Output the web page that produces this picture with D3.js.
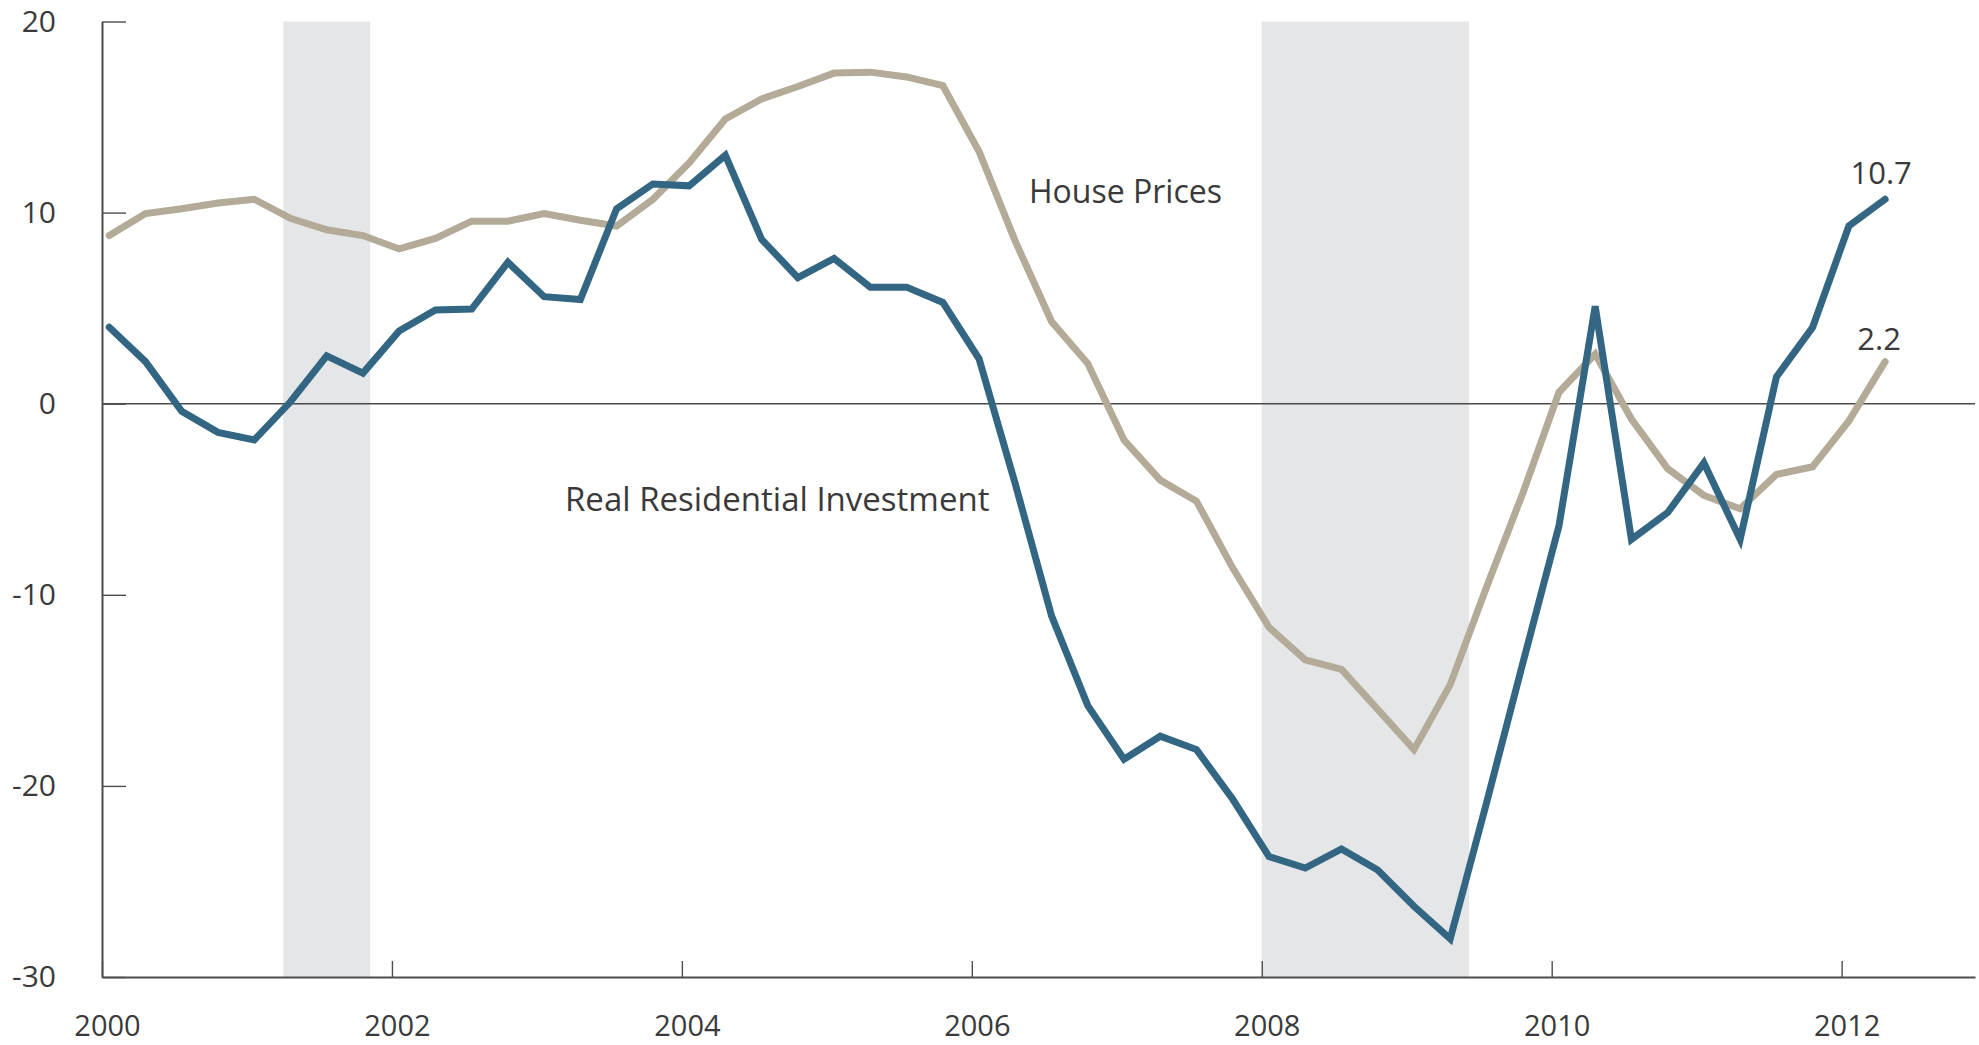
<!DOCTYPE html>
<html>
<head>
<meta charset="utf-8">
<script src="https://cdn.jsdelivr.net/npm/d3@7"></script>
<style>
  body { margin: 0; background: #fff; }
  svg text { font-family: "Open Sans", "Noto Sans", sans-serif; fill: #3a3a3a; }
</style>
</head>
<body>
<div id="chart"></div>
<script>
var width = 1979, height = 1045;

var years = [2000, 2001, 2002, 2003, 2004, 2005, 2006, 2007, 2008, 2009, 2010, 2011, 2012];
var xTicks = [2000, 2002, 2004, 2006, 2008, 2010, 2012];
var yTicks = [20, 10, 0, -10, -20, -30];

// quarterly, 2000Q1 .. 2012Q2, percent change from a year earlier
var investment = [4.0, 2.2, -0.4, -1.5,
                  -1.9, 0.1, 2.5, 1.6,
                  3.8, 4.9, 4.95, 7.4,
                  5.6, 5.45, 10.2, 11.5,
                  11.4, 13.0, 8.6, 6.6,
                  7.6, 6.1, 6.1, 5.3,
                  2.35, -4.2, -11.1, -15.8,
                  -18.6, -17.4, -18.1, -20.7,
                  -23.7, -24.3, -23.3, -24.4,
                  -26.3, -28.0, -20.9, -13.6,
                  -6.4, 5.1, -7.1, -5.7,
                  -3.1, -7.1, 1.4, 4.0,
                  9.3, 10.7];

var housePrices = [8.8, 9.95, 10.2, 10.5,
                   10.7, 9.7, 9.1, 8.8,
                   8.1, 8.65, 9.55, 9.55,
                   9.95, 9.6, 9.3, 10.7,
                   12.6, 14.9, 15.95, 16.6,
                   17.3, 17.35, 17.1, 16.65,
                   13.2, 8.5, 4.3, 2.1,
                   -1.9, -4.0, -5.1, -8.6,
                   -11.7, -13.4, -13.9, -16.0,
                   -18.1, -14.7, -9.6, -4.7,
                   0.6, 2.6, -0.8, -3.4,
                   -4.8, -5.5, -3.7, -3.3,
                   -0.9, 2.2];

// recession periods (fractional years)
var recessions = [[2001.25, 2001.85], [2008.0, 2009.43]];

// quarter dates as fractional years
var dates = [];
years.forEach(function(yr){
    for (var q = 0; q < 4; q++) dates.push(yr + q * 0.25 + 0.05);
});
dates = dates.slice(0, investment.length);

var svg = d3.select("#chart")
    .append("svg")
    .attr("width", width)
    .attr("height", height);

var x = d3.scaleLinear().domain([2000, 2012.92]).range([102, 1975]);
var y = d3.scaleLinear().domain([-30, 20]).range([977, 21.5]);

// recession shading
svg.selectAll(".rec")
    .data(recessions)
    .enter()
    .append("rect")
    .attr("class", "rec")
    .attr("x", function(d){ return x(d[0]); })
    .attr("width", function(d){ return x(d[1]) - x(d[0]); })
    .attr("y", y(20))
    .attr("height", y(-30) - y(20))
    .attr("fill", "#e5e6e8");

// zero line
svg.append("line")
    .attr("x1", x(2000))
    .attr("x2", x(2012.92))
    .attr("y1", y(0))
    .attr("y2", y(0))
    .attr("stroke", "#4a4a4a")
    .attr("stroke-width", 1.5);

// plain hyphen for negatives, like the original
var plain = function(d){ return String(d); };

var yAxis = svg.append("g")
    .attr("transform", "translate(" + x(2000) + ",0)")
    .call(d3.axisLeft(y).tickValues(yTicks).tickFormat(plain)
          .tickSizeInner(-24).tickSizeOuter(0).tickPadding(46));

var xAxis = svg.append("g")
    .attr("transform", "translate(0," + y(-30) + ")")
    .call(d3.axisBottom(x).tickValues(xTicks).tickFormat(plain)
          .tickSizeInner(-16).tickSizeOuter(0).tickPadding(38));

[yAxis, xAxis].forEach(function(g){
    g.select(".domain").attr("stroke", "#4d4d4d").attr("stroke-width", 2);
    g.selectAll(".tick line").attr("stroke", "#4d4d4d").attr("stroke-width", 1.4);
    g.selectAll(".tick text")
        .attr("font-size", "30px")
        .attr("fill", "#3a3a3a")
        .style("font-family", "'Open Sans', sans-serif");
});
xAxis.selectAll(".tick text").attr("dx", 5).attr("font-size", "29px");

var line = d3.line()
    .x(function(d, i){ return x(dates[i]); })
    .y(function(d){ return y(d); });

svg.append("path")
    .datum(housePrices)
    .attr("d", line)
    .attr("fill", "none")
    .attr("stroke", "#b3ab98")
    .attr("stroke-width", 7)
    .attr("stroke-linecap", "round");

svg.append("path")
    .datum(investment)
    .attr("d", line)
    .attr("fill", "none")
    .attr("stroke", "#336683")
    .attr("stroke-width", 7)
    .attr("stroke-linecap", "round");

// series labels
svg.append("text")
    .attr("x", 1029)
    .attr("y", 203)
    .attr("font-size", "32px")
    .text("House Prices");

svg.append("text")
    .attr("x", 565)
    .attr("y", 511)
    .attr("font-size", "33px")
    .text("Real Residential Investment");

// end value labels
var last = investment.length - 1;
svg.append("text")
    .attr("x", x(dates[last]) - 4)
    .attr("y", y(investment[last]) - 15)
    .attr("text-anchor", "middle")
    .attr("font-size", "31px")
    .text(investment[last].toFixed(1));

svg.append("text")
    .attr("x", x(dates[last]) - 6)
    .attr("y", y(housePrices[last]) - 12)
    .attr("text-anchor", "middle")
    .attr("font-size", "31px")
    .text(housePrices[last].toFixed(1));
</script>
</body>
</html>
